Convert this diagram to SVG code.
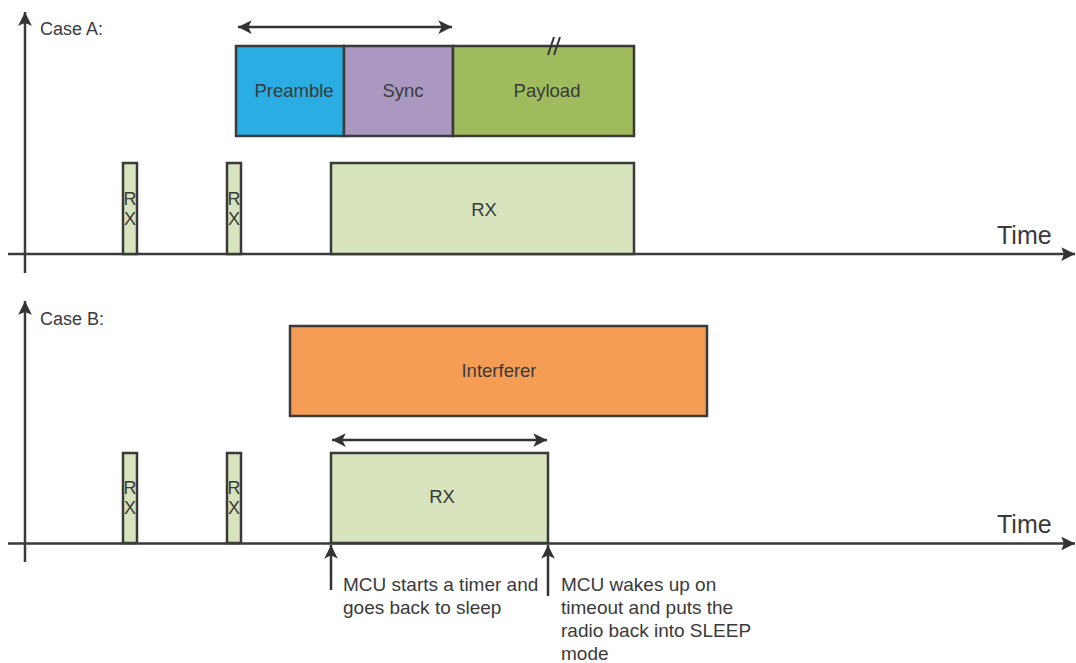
<svg xmlns="http://www.w3.org/2000/svg" width="1076" height="663" viewBox="0 0 1076 663">
<defs>
<marker id="ah" viewBox="0 0 10 10" refX="10" refY="5" markerWidth="5.5" markerHeight="5.5" orient="auto-start-reverse" markerUnits="strokeWidth"><path d="M0,0 L10,5 L0,10 L2,5 z" fill="#333"/></marker>
<marker id="ahs" viewBox="0 0 10 10" refX="10" refY="5" markerWidth="5.5" markerHeight="5.5" orient="auto-start-reverse" markerUnits="strokeWidth"><path d="M0,0 L10,5 L0,10 L2.5,5 z" fill="#333"/></marker>
<style>
.ax{stroke:#3a3a3a;stroke-width:2.5;fill:none}
.ln{stroke:#333;stroke-width:2.5;fill:none}
.bx{stroke:#3a3a3a;stroke-width:2.5}
.t{font-family:"Liberation Sans",Arial,sans-serif;fill:#3a3a3a}
.lbl{font-size:18.5px;text-anchor:middle}
.sm{font-size:18px;text-anchor:middle}
.note{font-size:19px}
.case{font-size:18px}
.time{font-size:25px}
.rx{fill:#d7e4bd}
</style>
</defs>
<rect width="1076" height="663" fill="#fff"/>
<g id="connectors">
<line class="ax" x1="25" y1="273" x2="25" y2="12" marker-end="url(#ah)"/>
<line class="ax" x1="8" y1="254" x2="1075" y2="254" marker-end="url(#ah)"/>
<line class="ax" x1="25" y1="562" x2="25" y2="301" marker-end="url(#ah)"/>
<line class="ax" x1="8" y1="543.5" x2="1075" y2="543.5" marker-end="url(#ah)"/>
<line class="ln" x1="238" y1="27" x2="452" y2="27" marker-start="url(#ahs)" marker-end="url(#ahs)"/>
<line class="ln" x1="332" y1="440" x2="547" y2="440" marker-start="url(#ahs)" marker-end="url(#ahs)"/>
<line class="ln" x1="331" y1="590" x2="331" y2="545" marker-end="url(#ahs)"/>
<line class="ln" x1="548" y1="596" x2="548" y2="545" marker-end="url(#ahs)"/>
</g>
<g id="caseA-label"><text class="t case" x="40" y="35">Case A:</text></g>
<g id="caseB-label"><text class="t case" x="40" y="325">Case B:</text></g>
<g id="timeA"><text class="t time" x="997" y="244">Time</text></g>
<g id="timeB"><text class="t time" x="997" y="533">Time</text></g>
<g id="preamble"><rect class="bx" x="236" y="46" width="108" height="90" fill="#29ade3"/><text class="t lbl" x="294" y="97">Preamble</text></g>
<g id="sync"><rect class="bx" x="344" y="46" width="109" height="90" fill="#aa98c1"/><text class="t lbl" x="403" y="97">Sync</text></g>
<g id="payload"><rect class="bx" x="453" y="46" width="181" height="90" fill="#9fbb5d"/><text class="t lbl" x="547" y="97">Payload</text>
<line x1="548" y1="55" x2="554" y2="37" stroke="#333" stroke-width="2"/><line x1="554" y1="55" x2="560" y2="37" stroke="#333" stroke-width="2"/></g>
<g id="rxA1"><rect class="bx rx" x="123" y="163" width="14" height="91"/><text class="t sm" x="130" y="205">R</text><text class="t sm" x="130" y="225">X</text></g>
<g id="rxA2"><rect class="bx rx" x="227" y="163" width="14" height="91"/><text class="t sm" x="234" y="205">R</text><text class="t sm" x="234" y="225">X</text></g>
<g id="rxA3"><rect class="bx rx" x="331" y="163" width="303" height="91"/><text class="t lbl" x="484" y="216">RX</text></g>
<g id="interferer"><rect class="bx" x="290" y="326" width="417" height="90" fill="#f59d55"/><text class="t lbl" x="499" y="377">Interferer</text></g>
<g id="rxB1"><rect class="bx rx" x="123" y="453" width="14" height="90"/><text class="t sm" x="130" y="494">R</text><text class="t sm" x="130" y="514">X</text></g>
<g id="rxB2"><rect class="bx rx" x="227" y="453" width="14" height="90"/><text class="t sm" x="234" y="494">R</text><text class="t sm" x="234" y="514">X</text></g>
<g id="rxB3"><rect class="bx rx" x="331" y="453" width="217" height="90"/><text class="t lbl" x="442" y="503">RX</text></g>
<g id="note1"><text class="t note" x="343" y="591">MCU starts a timer and</text><text class="t note" x="343" y="614">goes back to sleep</text></g>
<g id="note2"><text class="t note" x="561" y="591">MCU wakes up on</text><text class="t note" x="561" y="614">timeout and puts the</text><text class="t note" x="561" y="637">radio back into SLEEP</text><text class="t note" x="561" y="660">mode</text></g>
</svg>
